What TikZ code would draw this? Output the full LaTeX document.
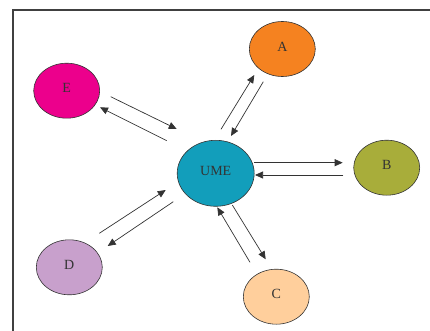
\documentclass[tikz,border=0pt]{standalone}
\usepackage{fontspec}
\setmainfont{Liberation Serif}
\usetikzlibrary{arrows.meta,shapes.geometric}

\definecolor{umeteal}{HTML}{129EBB}
\definecolor{aorange}{HTML}{F58220}
\definecolor{bolive}{HTML}{A8AD3A}
\definecolor{cpeach}{HTML}{FFCF9C}
\definecolor{dlilac}{HTML}{C8A0CC}
\definecolor{emagenta}{HTML}{EC008C}
\definecolor{inkgray}{HTML}{333333}

\begin{document}
\begin{tikzpicture}[x=1pt, y=-1pt,
    bubble/.style={ellipse, draw=inkgray, line width=0.6pt, inner sep=0pt,
        minimum width=66pt, minimum height=55pt, text=inkgray, text depth=5pt,
        font=\fontsize{14}{14}\selectfont},
    flow/.style={draw=inkgray, line width=0.7pt, -{Triangle[length=8pt, width=7pt]}}]
    \useasboundingbox (0,0) rectangle (430,331);
    % frame
    \draw[line width=1.3pt, black!75] (13,331) -- (13,10) -- (430,10);
    % bubbles
    \node[bubble, fill=umeteal, minimum width=77pt, minimum height=66pt] (UME) at (215.7,173.3) {UME};
    \node[bubble, fill=aorange] (A) at (282.3,49) {A};
    \node[bubble, fill=bolive] (B) at (386.7,167.7) {B};
    \node[bubble, fill=cpeach] (C) at (276.3,296.7) {C};
    \node[bubble, fill=dlilac] (D) at (69.3,267.3) {D};
    \node[bubble, fill=emagenta] (E) at (66.7,90.7) {E};
    % arrow ends
    \coordinate (e1) at (110.7,96.7);  \coordinate (u1) at (176.7,129);
    \coordinate (u2) at (166.7,140.7); \coordinate (e2) at (100,107.3);
    \coordinate (u3) at (221,129.3);   \coordinate (a1) at (254.3,75);
    \coordinate (a2) at (263.3,81.7);  \coordinate (u4) at (231,136);
    \coordinate (u5) at (254,162.7);   \coordinate (b1) at (342.7,162.7);
    \coordinate (b2) at (343.3,175);   \coordinate (u6) at (255,175);
    \coordinate (u7) at (232.3,205);   \coordinate (c1) at (265.7,259.3);
    \coordinate (c2) at (250,262.3);   \coordinate (u8) at (217.3,207.3);
    \coordinate (d1) at (99.3,233.3);  \coordinate (u9) at (165.7,190);
    \coordinate (u10) at (173.3,201.7); \coordinate (d2) at (107.7,246);
    % arrows
    \draw[flow] (e1) -- (u1);
    \draw[flow] (u2) -- (e2);
    \draw[flow] (u3) -- (a1);
    \draw[flow] (a2) -- (u4);
    \draw[flow] (u5) -- (b1);
    \draw[flow] (b2) -- (u6);
    \draw[flow] (u7) -- (c1);
    \draw[flow] (c2) -- (u8);
    \draw[flow] (d1) -- (u9);
    \draw[flow] (u10) -- (d2);
\end{tikzpicture}
\end{document}
